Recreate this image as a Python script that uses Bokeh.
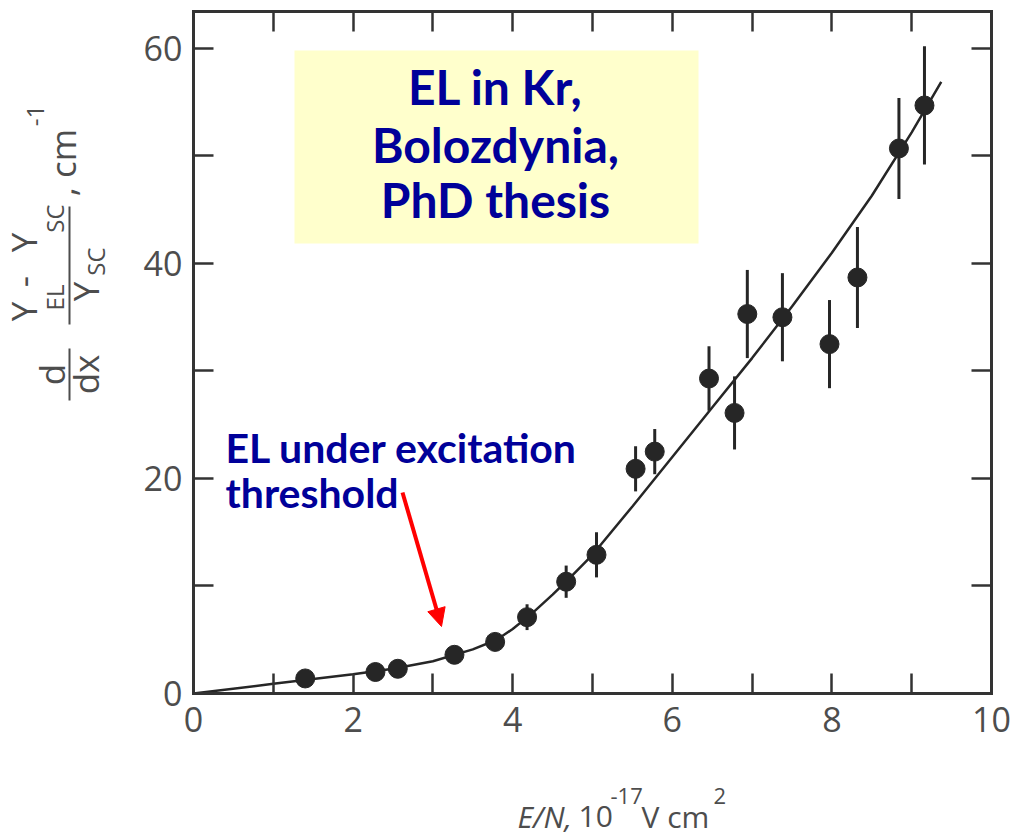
import math
from bokeh.plotting import figure
from bokeh.models import (Range1d, FixedTicker, LinearAxis, Label, Arrow,
                          NormalHead, BoxAnnotation)
from bokeh.embed import file_html
from bokeh.resources import INLINE

# ---------------- data ----------------
e_over_n = [1.40, 2.28, 2.56, 3.27, 3.78, 4.18, 4.67, 5.05, 5.54, 5.78,
            6.46, 6.78, 6.94, 7.38, 7.97, 8.32, 8.84, 9.16]
el_yield = [1.4, 2.0, 2.3, 3.6, 4.8, 7.1, 10.4, 12.9, 20.9, 22.5,
            29.3, 26.1, 35.3, 35.0, 32.5, 38.7, 50.7, 54.7]
el_err = [0.5, 0.5, 0.5, 0.5, 0.6, 1.2, 1.5, 2.1, 2.1, 2.1,
          3.0, 3.4, 4.1, 4.1, 4.1, 4.7, 4.7, 5.5]

fit_x = [0, 1.0, 2.0, 2.5, 3.0, 3.5, 3.8, 4.0, 4.25, 4.5, 4.75, 5.0, 5.5,
         6.0, 6.5, 7.0, 7.5, 8.0, 8.5, 9.0, 9.37]
fit_y = [0, 0.9, 1.8, 2.3, 3.0, 4.1, 5.0, 6.0, 7.5, 9.2, 11.0, 12.9, 17.4,
         22.0, 26.6, 31.2, 36.0, 41.0, 46.3, 52.2, 56.9]

x_ticks_labeled = [0, 2, 4, 6, 8, 10]
x_ticks_minor = [1, 3, 5, 7, 9]
y_ticks_labeled = [0, 20, 40, 60]
y_ticks_minor = [10, 30, 50]
top_ticks = [1, 2, 3, 4, 5, 6, 7, 8, 9]
right_ticks = [10, 20, 30, 40, 50, 60]

# ---------------- layout ----------------
W, H = 1019, 838
FL, FR, FT, FB = 193, 991, 11, 693      # box of the axes, in canvas pixels
X_MAX, Y_MAX = 10.0, 63.44


def dx(px):
    return (px - FL) * X_MAX / (FR - FL)


def dy(py):
    return (FB - py) * Y_MAX / (FB - FT)


INK = "#262626"
AX = "#333333"
TXT = "#4d4d4d"
NAVY = "#000099"
K = 0.44   # baseline correction (fraction of the font size)

# the frame covers the whole canvas; axes are pinned at fixed locations
p = figure(width=W, height=H,
           x_range=Range1d(dx(0), dx(W)), y_range=Range1d(dy(H), dy(0)),
           output_backend="svg", toolbar_location=None,
           x_axis_location=None, y_axis_location=None, min_border=0)
p.xgrid.visible = False
p.ygrid.visible = False
p.outline_line_color = None
p.background_fill_color = "white"
p.border_fill_color = "white"


def make_axis(ticks, minor, loc, bounds, size="34px", standoff=12):
    ax = LinearAxis(ticker=FixedTicker(ticks=ticks, minor_ticks=minor),
                    fixed_location=loc, bounds=bounds)
    ax.axis_line_color = AX
    ax.axis_line_width = 3
    ax.axis_line_cap = "square"
    ax.major_tick_line_color = AX
    ax.minor_tick_line_color = AX
    ax.major_tick_line_width = 2.5
    ax.minor_tick_line_width = 2.5
    ax.major_tick_in = 20
    ax.major_tick_out = 0
    ax.minor_tick_in = 20
    ax.minor_tick_out = 0
    ax.major_label_text_font = "Open Sans"
    ax.major_label_text_font_size = size
    ax.major_label_text_color = TXT
    ax.major_label_standoff = standoff
    return ax


p.add_layout(make_axis(x_ticks_labeled, x_ticks_minor, 0, (0, X_MAX), standoff=13), "below")
p.add_layout(make_axis(y_ticks_labeled, y_ticks_minor, 0, (0, Y_MAX), standoff=11), "left")
p.add_layout(make_axis([], top_ticks, Y_MAX, (0, X_MAX), standoff=0), "above")
p.add_layout(make_axis([], right_ticks, X_MAX, (0, Y_MAX), standoff=0), "right")

# ---------------- data marks ----------------
p.line(fit_x, fit_y, line_color=INK, line_width=2.5)
lo = [v - e for v, e in zip(el_yield, el_err)]
hi = [v + e for v, e in zip(el_yield, el_err)]
p.segment(x0=e_over_n, y0=lo, x1=e_over_n, y1=hi, line_color=INK, line_width=3)
p.scatter(e_over_n, el_yield, size=19, fill_color=INK, line_color=INK)

# ---------------- annotations ----------------
p.add_layout(BoxAnnotation(left=dx(294), right=dx(698), top=dy(50), bottom=dy(243),
                           fill_color="#FFFFCC", fill_alpha=1.0, line_color=None))


def hlabel(text, px, py, size, font="Open Sans", style="normal", color=TXT,
           align="left"):
    p.add_layout(Label(x=dx(px), y=dy(py - K * size), text=text, text_align=align,
                       text_baseline="alphabetic", text_font=font,
                       text_font_style=style, text_font_size=f"{size}px",
                       text_color=color))


for txt, py in [("EL in Kr,", 107), ("Bolozdynia,", 165), ("PhD thesis", 220)]:
    hlabel(txt, 495, py, 48, font="Lato", style="bold", color=NAVY, align="center")

for txt, py in [("EL under excitation", 465), ("threshold", 510)]:
    hlabel(txt, 225, py, 41, font="Lato", style="bold", color=NAVY)

p.add_layout(Arrow(x_start=dx(402), y_start=dy(492), x_end=dx(441), y_end=dy(626),
                   line_color="#ff0000", line_width=4,
                   end=NormalHead(size=18, fill_color="#ff0000", line_color="#ff0000")))

# y-axis label (rotated, built from pieces); bx = baseline x, py = centre y
ROT = math.pi / 2


def vlabel(text, bx, py, size=35):
    p.add_layout(Label(x=dx(bx - K * size), y=dy(py), text=text, angle=ROT,
                       text_align="center", text_baseline="alphabetic",
                       text_font="Open Sans", text_font_size=f"{size}px",
                       text_color=TXT))


def vbar(px, py0, py1):
    p.add_layout(Arrow(x_start=dx(px), y_start=dy(py0), x_end=dx(px), y_end=dy(py1),
                       start=None, end=None, line_color=TXT, line_width=2))


vlabel("d", 66, 374)
vbar(69, 348, 400)
vlabel("dx", 100, 374)

vlabel("Y", 38, 311)
vlabel("EL", 65, 297, size=24)
vlabel("-", 38, 281)
vlabel("Y", 38, 242)
vlabel("SC", 65, 218, size=24)
vbar(69, 206, 324)
vlabel("Y", 100, 291)
vlabel("SC", 106, 261, size=24)
vlabel(", cm", 77, 162)
vlabel("-1", 46, 115, size=24)

# x-axis label, built from pieces
hlabel("E/N,", 517, 829, 30, style="italic")
hlabel("10", 578, 829, 30)
hlabel("-17", 610, 805, 22)
hlabel("V cm", 641, 829, 30)
hlabel("2", 713, 805, 22)

open("out.html", "w").write(file_html(p, INLINE))
